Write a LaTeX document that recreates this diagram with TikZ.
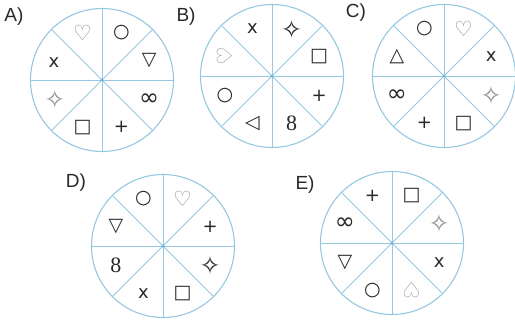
\documentclass[tikz,border=0pt]{standalone}
\usepackage{fontspec}
\setmainfont{Liberation Sans}
\newfontfamily\symfont{DejaVu Sans}
\newfontfamily\digitfont{Liberation Serif}
\usetikzlibrary{positioning}

\definecolor{rim}{RGB}{150,200,225}
\definecolor{hub}{RGB}{110,180,225}
\definecolor{ink}{RGB}{40,40,40}
\definecolor{pale}{RGB}{145,145,145}

% glyphs, each at its own size
\newcommand{\gHeart}{{\fontsize{21}{21}\selectfont ♡}}
\newcommand{\gRing}{{\fontsize{19}{19}\selectfont ○}}
\newcommand{\gDown}{{\fontsize{19}{19}\selectfont ▽}}
\newcommand{\gUp}{{\fontsize{19}{19}\selectfont △}}
\newcommand{\gLeft}{{\fontsize{19}{19}\selectfont ◁}}
\newcommand{\gBox}{{\fontsize{19}{19}\selectfont □}}
\newcommand{\gStar}{{\fontsize{25}{25}\selectfont ✧}}
\newcommand{\gInf}{{\fontsize{24}{24}\selectfont ∞}}
\newcommand{\gPlus}{{\fontsize{18}{18}\selectfont +}}
\newcommand{\gX}{{\fontsize{18}{18}\selectfont x}}
\newcommand{\gEight}{{\digitfont\fontsize{22}{22}\selectfont 8}}

\begin{document}
\begin{tikzpicture}[
    x=1pt,y=1pt,
    wheel/.style={circle,draw=rim,line width=1.1pt,minimum size=143pt,inner sep=0pt},
    spoke/.style={draw=rim,line width=1pt},
    sym/.style={font=\symfont,inner sep=0pt,text=ink},
    tag/.style={font=\fontsize{19}{19}\selectfont,inner sep=0pt,text=ink}
]
\useasboundingbox (0,0) rectangle (515,-324);

% labels
\node[tag] (tA) at (14,-17) {A)};
\node[tag] (tB) at (186,-17) {B)};
\node[tag] (tC) at (356,-13) {C)};
\node[tag] (tD) at (76,-183) {D)};
\node[tag] (tE) at (305,-185) {E)};

% wheel A
\node[wheel] (wA) at (102,-80) {};
\foreach \p/\q in {0/180,45/225,90/270,135/315}
    \draw[spoke] (wA.\p) -- (wA.\q);
\fill[hub] (wA) circle (1.6pt);
\foreach \a/\s/\c [count=\i] in {22.5/\gDown/ink,67.5/\gRing/ink,112.5/\gHeart/pale,160/\gX/ink,
                                 202.5/\gStar/pale,247.5/\gBox/ink,292.5/\gPlus/ink,337.5/\gInf/ink}
    \node[sym,text=\c] (A\i) at ([shift={(\a:51)}]wA.center) {\s};

% wheel B
\node[wheel] (wB) at (272,-76) {};
\foreach \p/\q in {0/180,45/225,90/270,135/315}
    \draw[spoke] (wB.\p) -- (wB.\q);
\fill[hub] (wB) circle (1.6pt);
\foreach \a/\s/\c [count=\i] in {22.5/\gBox/ink,67.5/\gStar/ink,112.5/\gX/ink,202.5/\gRing/ink,
                                 247.5/\gLeft/ink,292.5/\gEight/ink,337.5/\gPlus/ink}
    \node[sym,text=\c] (B\i) at ([shift={(\a:51)}]wB.center) {\s};
\node[sym,text=pale,rotate=90] (B8) at ([shift={(157.5:51)}]wB.center) {\gHeart};

% wheel C
\node[wheel] (wC) at (444,-76) {};
\foreach \p/\q in {0/180,45/225,90/270,135/315}
    \draw[spoke] (wC.\p) -- (wC.\q);
\fill[hub] (wC) circle (1.6pt);
\foreach \a/\s/\c [count=\i] in {22.5/\gX/ink,67.5/\gHeart/pale,112.5/\gRing/ink,157.5/\gUp/ink,
                                 202.5/\gInf/ink,247.5/\gPlus/ink,292.5/\gBox/ink,337.5/\gStar/pale}
    \node[sym,text=\c] (C\i) at ([shift={(\a:51)}]wC.center) {\s};

% wheel D
\node[wheel] (wD) at (163,-246) {};
\foreach \p/\q in {0/180,45/225,90/270,135/315}
    \draw[spoke] (wD.\p) -- (wD.\q);
\fill[hub] (wD) circle (1.6pt);
\foreach \a/\s/\c [count=\i] in {22.5/\gPlus/ink,67.5/\gHeart/pale,112.5/\gRing/ink,157.5/\gDown/ink,
                                 202.5/\gEight/ink,247.5/\gX/ink,292.5/\gBox/ink,337.5/\gStar/ink}
    \node[sym,text=\c] (D\i) at ([shift={(\a:51)}]wD.center) {\s};

% wheel E
\node[wheel] (wE) at (392,-243) {};
\foreach \p/\q in {0/180,45/225,90/270,135/315}
    \draw[spoke] (wE.\p) -- (wE.\q);
\fill[hub] (wE) circle (1.6pt);
\foreach \a/\s/\c [count=\i] in {22.5/\gStar/pale,67.5/\gBox/ink,112.5/\gPlus/ink,157.5/\gInf/ink,
                                 202.5/\gDown/ink,247.5/\gRing/ink,337.5/\gX/ink}
    \node[sym,text=\c] (E\i) at ([shift={(\a:51)}]wE.center) {\s};
\node[sym,text=pale,rotate=180] (E8) at ([shift={(292.5:51)}]wE.center) {\gHeart};

\end{tikzpicture}
\end{document}
